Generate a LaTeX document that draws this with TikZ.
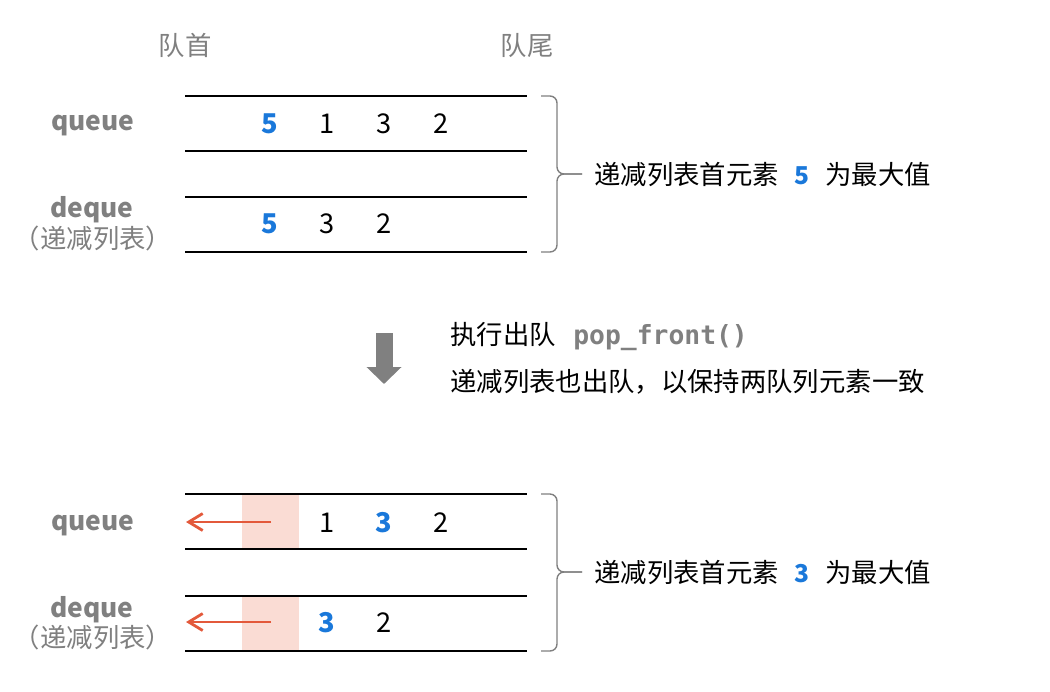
\documentclass[tikz,border=0pt]{standalone}
\usepackage{fontspec}
\setmainfont{Noto Sans CJK SC}
\setmonofont{DejaVu Sans Mono}
\usepackage{tikz}
\usepackage{xcolor}
\usetikzlibrary{positioning,arrows.meta}

\definecolor{numblue}{HTML}{1A78DA}
\definecolor{labgray}{HTML}{808080}
\definecolor{popred}{HTML}{E3593B}
\definecolor{popbg}{HTML}{FADCD4}

\begin{document}
\begin{tikzpicture}[x=0.02cm, y=-0.02cm, inner sep=0pt,
    cjk/.style={anchor=base, font=\fontsize{15}{18}\selectfont},
    num/.style={anchor=base, font=\fontsize{15.5}{18}\selectfont},
    maxval/.style={num, text=numblue, font=\fontsize{15.5}{18}\selectfont\bfseries},
    qname/.style={anchor=base, text=labgray, font=\fontsize{15}{18}\selectfont\bfseries},
    rail/.style={line width=1.1pt},
    brace/.style={draw=labgray, line width=0.8pt, rounded corners=4pt},
    popline/.style={draw=popred, line width=1.6pt, -{Straight Barb[length=2.8mm,width=3.4mm]}},
    bigarrow/.style={draw=labgray, line width=0.34cm, -{Triangle[length=0.34cm,width=0.68cm]}}]

    \useasboundingbox (0,0) rectangle (1050,691);

    % head and tail
    \node[cjk, text=labgray] (head) at (185,55) {队首};
    \node[cjk, text=labgray] (tail) at (527,55) {队尾};

    % before pop
    \draw[rail] (185,96) -- (527,96) (185,151) -- (527,151)
                (185,197) -- (527,197) (185,252) -- (527,252);
    \node[qname] (q1) at (93,130) {queue};
    \node[qname] (d1) at (92,217) {deque};
    \node[cjk, text=labgray] (d1n) at (93,248) {（递减列表）};

    \node[maxval] (q1a) at (270,133) {5};
    \node[num] (q1b) at (327,133) {1};
    \node[num] (q1c) at (384,133) {3};
    \node[num] (q1d) at (441,133) {2};
    \node[maxval] (d1a) at (270,233) {5};
    \node[num] (d1b) at (327,233) {3};
    \node[num] (d1c) at (384,233) {2};

    \node[cjk, anchor=base west] (m1) at (594,184)
        {递减列表首元素\hspace{9pt}{\fontsize{14}{16}\selectfont\bfseries\color{numblue}5}\hspace{9pt}为最大值};
    \coordinate (b1t) at (541,96);
    \coordinate (b1b) at (541,252);
    \coordinate (b1m) at (582,174);
    \draw[brace] (b1t) -- (557,96) -- (557,174) -- (b1m);
    \draw[brace] (b1b) -- (557,252) -- (557,174) -- (b1m);

    % step
    \coordinate (s0) at (384,333);
    \coordinate (s1) at (384,384);
    \draw[bigarrow] (s0) -- (s1);
    \node[cjk, anchor=base west] (t1) at (450,344)
        {执行出队\hspace{10pt}{\fontsize{15}{17}\selectfont\ttfamily\bfseries\color{labgray}pop\_front()}};
    \node[cjk, anchor=base west] (t2) at (450,391) {递减列表也出队，以保持两队列元素一致};

    % after pop
    \fill[popbg] (242,494) rectangle (299,549);
    \fill[popbg] (242,596) rectangle (299,651);
    \draw[rail] (185,494) -- (527,494) (185,549) -- (527,549)
                (185,596) -- (527,596) (185,651) -- (527,651);
    \node[qname] (q2) at (93,530) {queue};
    \node[qname] (d2) at (92,617) {deque};
    \node[cjk, text=labgray] (d2n) at (93,647) {（递减列表）};

    \coordinate (q2s) at (271,522);
    \coordinate (q2e) at (186,522);
    \coordinate (d2s) at (271,622);
    \coordinate (d2e) at (186,622);
    \draw[popline] (q2s) -- (q2e);
    \draw[popline] (d2s) -- (d2e);

    \node[num] (q2b) at (327,532) {1};
    \node[maxval] (q2c) at (384,532) {3};
    \node[num] (q2d) at (441,532) {2};
    \node[maxval] (d2b) at (327,632) {3};
    \node[num] (d2c) at (384,632) {2};

    \node[cjk, anchor=base west] (m2) at (594,582)
        {递减列表首元素\hspace{9pt}{\fontsize{14}{16}\selectfont\bfseries\color{numblue}3}\hspace{9pt}为最大值};
    \coordinate (b2t) at (541,494);
    \coordinate (b2b) at (541,651);
    \coordinate (b2m) at (582,572);
    \draw[brace] (b2t) -- (557,494) -- (557,572) -- (b2m);
    \draw[brace] (b2b) -- (557,651) -- (557,572) -- (b2m);

\end{tikzpicture}
\end{document}
